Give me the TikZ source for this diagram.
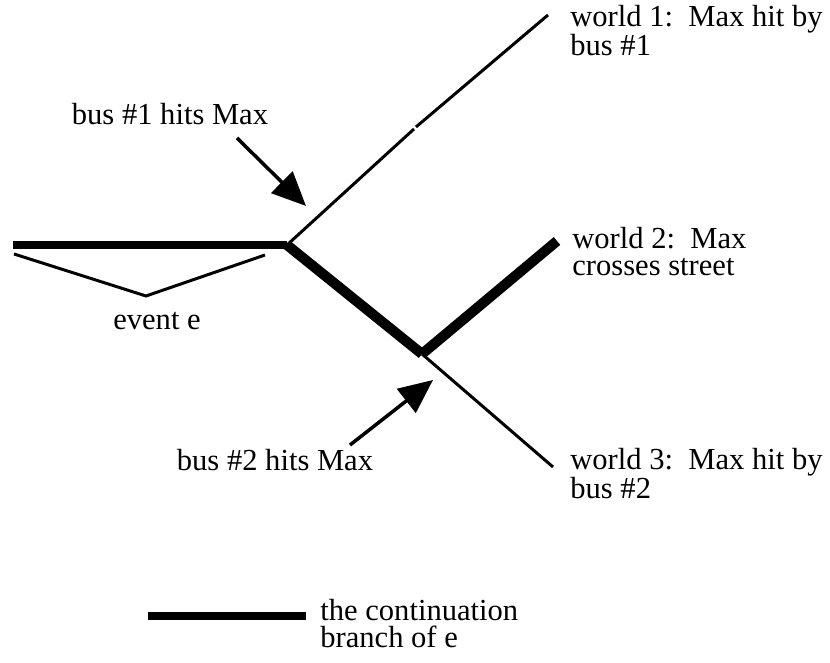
\documentclass[tikz,border=0pt]{standalone}
\usepackage{fontspec}
\setmainfont{Liberation Serif}
\usetikzlibrary{arrows.meta,positioning}

\begin{document}
\begin{tikzpicture}[
	thinline/.style={line width=1.7pt},
	thickline/.style={line width=4.6pt},
	heavyline/.style={line width=5.8pt},
	pointer/.style={line width=2pt,-{Triangle[length=0.68cm,width=0.6cm]}},
	lbl/.style={inner sep=0pt,font=\fontsize{17.4}{15.8}\selectfont,align=left}
	]
	\useasboundingbox (0,0) rectangle (16.6,13.26);
	%
	% branch points
	\coordinate (start) at (0.26,8.36);
	\coordinate (b1) at (5.74,8.36);
	\coordinate (b2) at (8.44,6.18);
	\coordinate (gapA) at (8.28,10.68);
	\coordinate (gapB) at (8.32,10.72);
	\coordinate (end1) at (10.96,12.96);
	\coordinate (end2) at (11.14,8.44);
	\coordinate (end3) at (11.06,3.92);
	
	% worlds
	\draw[thickline] (start) -- (b1);
	\draw[heavyline] (b1) -- (b2);
	\draw[heavyline] (b2) -- (end2);
	\draw[thinline] (b1) -- (gapA);
	\draw[thinline] (gapB) -- (end1);
	\draw[thinline] (b2) -- (end3);
	%
	\node[lbl,anchor=base west] (w1) at (11.4,12.14) {world 1:\ \ Max hit by\\bus \#1};
	\node[lbl,anchor=base west] (w2) at (11.44,7.74) {world 2:\ \ Max\\crosses street};
	\node[lbl,anchor=base west] (w3) at (11.4,3.28) {world 3:\ \ Max hit by\\bus \#2};
	
	% event e
	\coordinate (e1) at (0.28,8.18);
	\coordinate (e2) at (2.92,7.34);
	\coordinate (e3) at (5.30,8.16);
	\draw[thinline] (e1) -- (e2) -- (e3);
	\node[lbl,anchor=base] (ev) at (3.14,6.66) {event e};
	
	% buses
	\node[lbl,anchor=base] (bus1) at (3.4,10.76) {bus \#1 hits Max};
	\coordinate (tail1) at (4.74,10.5);
	\coordinate (tip1) at (6.12,9.14);
	\draw[pointer] (tail1) -- (tip1);
	\node[lbl,anchor=base] (bus2) at (5.5,3.84) {bus \#2 hits Max};
	\coordinate (tail2) at (7.0,4.36);
	\coordinate (tip2) at (8.66,5.66);
	\draw[pointer] (tail2) -- (tip2);
	
	% legend
	\coordinate (legA) at (2.96,0.94);
	\coordinate (legB) at (6.12,0.94);
	\draw[thickline] (legA) -- (legB);
	\node[lbl,anchor=base west] (legtext) at (6.4,0.3) {the continuation\\branch of e};
\end{tikzpicture}
\end{document}
